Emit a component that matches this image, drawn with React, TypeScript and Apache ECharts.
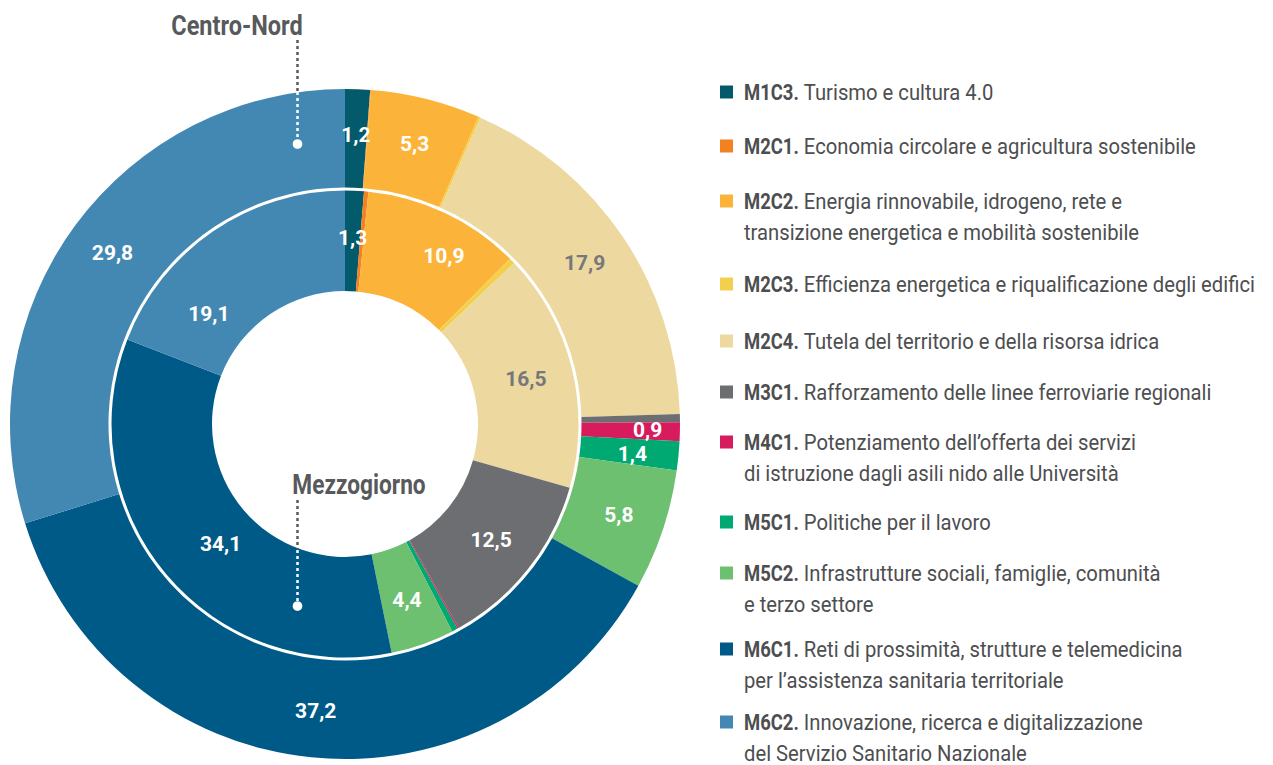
import React, { useEffect, useRef } from "react";
import * as echarts from "echarts";

const codes = ["M1C3", "M2C1", "M2C2", "M2C3", "M2C4", "M3C1", "M4C1", "M5C1", "M5C2", "M6C1", "M6C2"];
const names = [
  "Turismo e cultura 4.0",
  "Economia circolare e agricultura sostenibile",
  "Energia rinnovabile, idrogeno, rete e\ntransizione energetica e mobilità sostenibile",
  "Efficienza energetica e riqualificazione degli edifici",
  "Tutela del territorio e della risorsa idrica",
  "Rafforzamento delle linee ferroviarie regionali",
  "Potenziamento dell’offerta dei servizi\ndi istruzione dagli asili nido alle Università",
  "Politiche per il lavoro",
  "Infrastrutture sociali, famiglie, comunità\ne terzo settore",
  "Reti di prossimità, strutture e telemedicina\nper l’assistenza sanitaria territoriale",
  "Innovazione, ricerca e digitalizzazione\ndel Servizio Sanitario Nazionale",
];
const colors = ["#035a6b", "#f28122", "#fbb33a", "#f2d04c", "#edd8a0", "#6d6e71", "#d81b5c", "#00a872", "#6cc070", "#005a87", "#4388b2"];
const centroNord = [1.2, 0.03, 5.3, 0.1, 17.9, 0.4, 0.9, 1.4, 5.8, 37.2, 29.8];
const mezzogiorno = [1.3, 0.3, 10.9, 0.4, 16.5, 12.5, 0.1, 0.4, 4.4, 34.1, 19.1];
const ringTitles = ["Centro-Nord", "Mezzogiorno"];

// layout (not data)
const FONT = 'Roboto, "Liberation Sans", sans-serif';
const CX = 345;
const CY = 424;
const darkLabelCodes = ["M2C4"];
const outerOffsets: Record<string, number[]> = { M4C1: [14, -1], M5C1: [0, 2] };
const innerOffsets: Record<string, number[]> = { M2C2: [19, 0], M6C1: [18, 0], M6C2: [-31, 44] };
const legendY = [92, 146, 201, 284, 341, 392, 442, 522, 573, 649, 722];
const LEGEND_FS = 22;
const LINE_H = 31;
const CODE_SCALE = 0.84;
const NAME_SCALE = 0.92;
const TEXT_COLOR = "#4d4e50";

const fmt = (v: number) => v.toFixed(1).replace(".", ",");

function measure(text: string, font: string) {
  const ctx = document.createElement("canvas").getContext("2d");
  if (!ctx) return text.length * 12;
  ctx.font = font;
  return ctx.measureText(text).width;
}

function buildData(values: number[], offsets: Record<string, number[]>) {
  return values.map((v, i) => ({
    name: codes[i],
    value: v,
    itemStyle: { color: colors[i] },
    label: {
      show: v >= 0.5,
      color: darkLabelCodes.includes(codes[i]) ? "#77787b" : "#ffffff",
      offset: offsets[codes[i]] || [0, 0],
    },
  }));
}

export default function App() {
  const ref = useRef<HTMLDivElement>(null);
  useEffect(() => {
    if (!ref.current) return;
    const chart = echarts.init(ref.current, undefined, { renderer: "svg" });
    const labelCommon = {
      position: "inside",
      formatter: (p: any) => fmt(p.value),
      fontFamily: FONT,
      fontWeight: "bold",
      fontSize: 21,
    };
    const boldFont = `bold ${LEGEND_FS}px ${FONT}`;
    const normFont = `${LEGEND_FS}px ${FONT}`;
    const legendGraphics: any[] = [];
    codes.forEach((c, i) => {
      const y = legendY[i];
      legendGraphics.push({
        type: "rect",
        shape: { x: 720, y: y - 6.5, width: 13, height: 13 },
        style: { fill: colors[i] },
        z: 100,
      });
      const codeText = `${c}.`;
      legendGraphics.push({
        type: "text",
        x: 744,
        y,
        scaleX: CODE_SCALE,
        z: 100,
        style: { text: codeText, font: boldFont, fill: TEXT_COLOR, verticalAlign: "middle", align: "left" },
      });
      const nameX = 744 + measure(codeText, boldFont) * CODE_SCALE + 5;
      const lines = names[i].split("\n");
      lines.forEach((l, k) => {
        legendGraphics.push({
          type: "text",
          x: k === 0 ? nameX : 744,
          y: y + k * LINE_H,
          scaleX: NAME_SCALE,
          z: 100,
          style: { text: l, font: normFont, fill: TEXT_COLOR, verticalAlign: "middle", align: "left" },
        });
      });
    });
    const annot: any[] = [
      {
        type: "text",
        x: 237,
        y: 25,
        scaleX: 0.84,
        z: 100,
        style: { text: ringTitles[0], font: `bold 28px ${FONT}`, fill: "#58595b", align: "center", verticalAlign: "middle" },
      },
      { type: "line", z: 100, shape: { x1: 297.5, y1: 40, x2: 297.5, y2: 91 }, style: { stroke: "#58595b", lineWidth: 2.5, lineDash: [3, 3] } },
      { type: "line", z: 100, shape: { x1: 297.5, y1: 92, x2: 297.5, y2: 144 }, style: { stroke: "#ffffff", lineWidth: 2.5, lineDash: [3, 3] } },
      { type: "circle", z: 100, shape: { cx: 297.5, cy: 144, r: 4.8 }, style: { fill: "#ffffff" } },
      {
        type: "text",
        x: 359,
        y: 484,
        scaleX: 0.81,
        z: 100,
        style: { text: ringTitles[1], font: `bold 28px ${FONT}`, fill: "#58595b", align: "center", verticalAlign: "middle" },
      },
      { type: "line", z: 100, shape: { x1: 297.5, y1: 500, x2: 297.5, y2: 549 }, style: { stroke: "#58595b", lineWidth: 2.5, lineDash: [3, 3] } },
      { type: "line", z: 100, shape: { x1: 297.5, y1: 550, x2: 297.5, y2: 606 }, style: { stroke: "#ffffff", lineWidth: 2.5, lineDash: [3, 3] } },
      { type: "circle", z: 100, shape: { cx: 297.5, cy: 606, r: 4.8 }, style: { fill: "#ffffff" } },
    ];
    const seriesCommon = {
      type: "pie",
      center: [CX, CY],
      startAngle: 90,
      clockwise: true,
      avoidLabelOverlap: false,
      minShowLabelAngle: 0,
      emphasis: { disabled: true },
      itemStyle: { borderWidth: 0 },
      label: labelCommon,
      labelLine: { show: false },
      labelLayout: { hideOverlap: false },
    };
    chart.setOption({
      animation: false,
      backgroundColor: "#ffffff",
      series: [
        { ...seriesCommon, name: ringTitles[0], radius: [236.5, 335], data: buildData(centroNord, outerOffsets) },
        { ...seriesCommon, name: ringTitles[1], radius: [133, 233.5], data: buildData(mezzogiorno, innerOffsets) },
      ],
      graphic: [...legendGraphics, ...annot],
    });
    return () => chart.dispose();
  }, []);
  return <div ref={ref} style={{ position: "fixed", left: 0, top: 0, width: 1273, height: 765 }} />;
}
